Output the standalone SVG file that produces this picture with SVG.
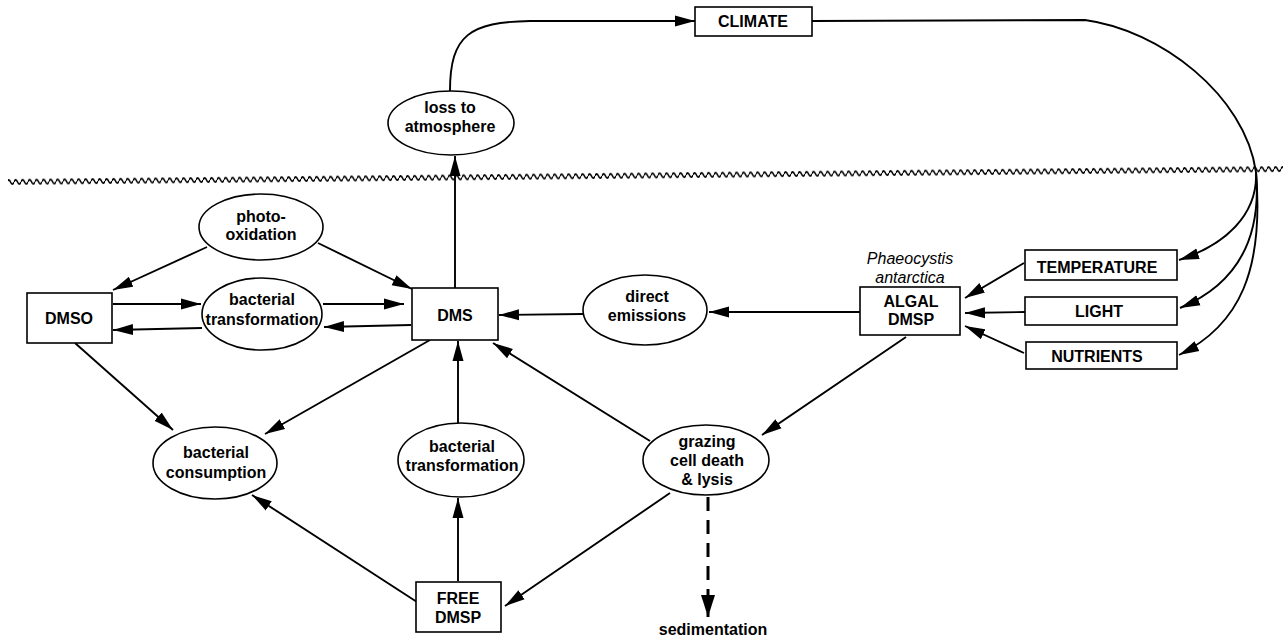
<svg xmlns="http://www.w3.org/2000/svg" width="1283" height="640" viewBox="0 0 1283 640">
<style>
  .box { fill: #fff; stroke: #000; stroke-width: 1.6; }
  .ell { fill: #fff; stroke: #000; stroke-width: 1.6; }
  .t { font-family: "Liberation Sans", Arial, Helvetica, sans-serif; font-weight: bold; font-size: 16px; fill: #000; text-anchor: middle; }
  .it { font-family: "Liberation Sans", Arial, Helvetica, sans-serif; font-style: italic; font-size: 16px; fill: #000; text-anchor: middle; }
  .c { fill: none; stroke: #000; stroke-width: 1.9; marker-end: url(#ah); }
  .plain { fill: none; stroke: #000; stroke-width: 1.9; }
  .dash { fill: none; stroke: #000; stroke-width: 3; stroke-dasharray: 14 9; marker-end: url(#ahd); }
</style>
<defs>
  <marker id="ah" markerWidth="21" markerHeight="12" refX="20" refY="6" orient="auto" markerUnits="userSpaceOnUse">
    <path d="M0,0.5 L20,6 L0,11.5 z" fill="#000"/>
  </marker>
  <marker id="ahd" markerWidth="23" markerHeight="14" refX="22" refY="7" orient="auto" markerUnits="userSpaceOnUse">
    <path d="M0,0 L22,7 L0,14 z" fill="#000"/>
  </marker>
  <pattern id="wave" x="0" y="2" width="7" height="8" patternUnits="userSpaceOnUse">
    <path d="M0,4 Q1.75,-0.2 3.5,4 T7,4" fill="none" stroke="#000" stroke-width="1.6"/>
  </pattern>
</defs>
<rect width="1283" height="640" fill="#fff"/>

<g id="sea-surface">
  <rect x="8" y="178" width="1280" height="8" fill="url(#wave)" transform="rotate(-0.584 8 182)"/>
</g>

<g id="connectors">
  <path class="c" d="M450,91 C450,35 470,22 530,21 L695,21"/>
  <path class="plain" d="M812,21 L1085,20 C1160,30 1245,95 1256,172"/>
  <path class="c" d="M1256,172 C1258,215 1225,245 1179,260"/>
  <path class="c" d="M1256,172 C1262,240 1235,285 1180,308"/>
  <path class="c" d="M1256,172 C1264,270 1240,325 1179,355"/>
  <path class="c" d="M1024,263 L965,298"/>
  <path class="c" d="M1025,312 L965,313"/>
  <path class="c" d="M1024,353 L965,326"/>
  <path class="c" d="M860,312 L709,312"/>
  <path class="c" d="M583,314 L499,315"/>
  <path class="c" d="M455,288 L455,156"/>
  <path class="c" d="M207,247 L113,290"/>
  <path class="c" d="M318,243 L412,289"/>
  <path class="c" d="M113,304 L201,304"/>
  <path class="c" d="M202,328 L113,330"/>
  <path class="c" d="M323,304 L404,304"/>
  <path class="c" d="M411,325 L324,327"/>
  <path class="c" d="M75,343 L173,430"/>
  <path class="c" d="M430,340 L265,434"/>
  <path class="c" d="M417,602 L252,495"/>
  <path class="c" d="M458,423 L458,341"/>
  <path class="c" d="M458,581 L458,498"/>
  <path class="c" d="M650,441 L493,343"/>
  <path class="c" d="M670,493 L505,606"/>
  <path class="c" d="M906,337 L762,435"/>
  <path class="dash" d="M708,497 L708,617"/>
</g>

<g id="climate">
  <rect class="box" x="695" y="7" width="117" height="29"/>
  <text class="t" x="753" y="27">CLIMATE</text>
</g>
<g id="loss-to-atmosphere">
  <ellipse class="ell" cx="451" cy="123" rx="63" ry="32"/>
  <text class="t" x="450" y="113">loss to</text>
  <text class="t" x="450" y="132">atmosphere</text>
</g>
<g id="photo-oxidation">
  <ellipse class="ell" cx="261" cy="227" rx="62" ry="33"/>
  <text class="t" x="261" y="222">photo-</text>
  <text class="t" x="261" y="240">oxidation</text>
</g>
<g id="dmso">
  <rect class="box" x="27" y="293" width="85" height="50"/>
  <text class="t" x="69" y="324">DMSO</text>
</g>
<g id="bacterial-transformation-upper">
  <ellipse class="ell" cx="262" cy="314" rx="60" ry="36"/>
  <text class="t" x="262" y="305">bacterial</text>
  <text class="t" x="262" y="325">transformation</text>
</g>
<g id="dms">
  <rect class="box" x="412" y="288" width="86" height="52"/>
  <text class="t" x="455" y="321">DMS</text>
</g>
<g id="direct-emissions">
  <ellipse class="ell" cx="645" cy="310" rx="62" ry="35"/>
  <text class="t" x="647" y="302">direct</text>
  <text class="t" x="647" y="321">emissions</text>
</g>
<g id="algal-dmsp">
  <text class="it" x="910" y="264">Phaeocystis</text>
  <text class="it" x="910" y="283">antarctica</text>
  <rect class="box" x="860" y="287" width="100" height="48"/>
  <text class="t" x="911" y="307">ALGAL</text>
  <text class="t" x="911" y="325">DMSP</text>
</g>
<g id="temperature">
  <rect class="box" x="1025" y="250" width="152" height="30"/>
  <text class="t" x="1097" y="273">TEMPERATURE</text>
</g>
<g id="light">
  <rect class="box" x="1025" y="297" width="152" height="28"/>
  <text class="t" x="1099" y="317">LIGHT</text>
</g>
<g id="nutrients">
  <rect class="box" x="1026" y="342" width="151" height="27"/>
  <text class="t" x="1097" y="362">NUTRIENTS</text>
</g>
<g id="bacterial-consumption">
  <ellipse class="ell" cx="215" cy="463" rx="62" ry="36"/>
  <text class="t" x="216" y="458">bacterial</text>
  <text class="t" x="216" y="478">consumption</text>
</g>
<g id="bacterial-transformation-lower">
  <ellipse class="ell" cx="461" cy="460" rx="63" ry="37"/>
  <text class="t" x="462" y="452">bacterial</text>
  <text class="t" x="462" y="471">transformation</text>
</g>
<g id="grazing">
  <ellipse class="ell" cx="706" cy="460" rx="63" ry="35"/>
  <text class="t" x="707" y="447">grazing</text>
  <text class="t" x="707" y="466">cell death</text>
  <text class="t" x="707" y="485">&amp; lysis</text>
</g>
<g id="free-dmsp">
  <rect class="box" x="416" y="582" width="85" height="50"/>
  <text class="t" x="458" y="604">FREE</text>
  <text class="t" x="458" y="623">DMSP</text>
</g>
<g id="sedimentation">
  <text class="t" x="713" y="635">sedimentation</text>
</g>
</svg>
